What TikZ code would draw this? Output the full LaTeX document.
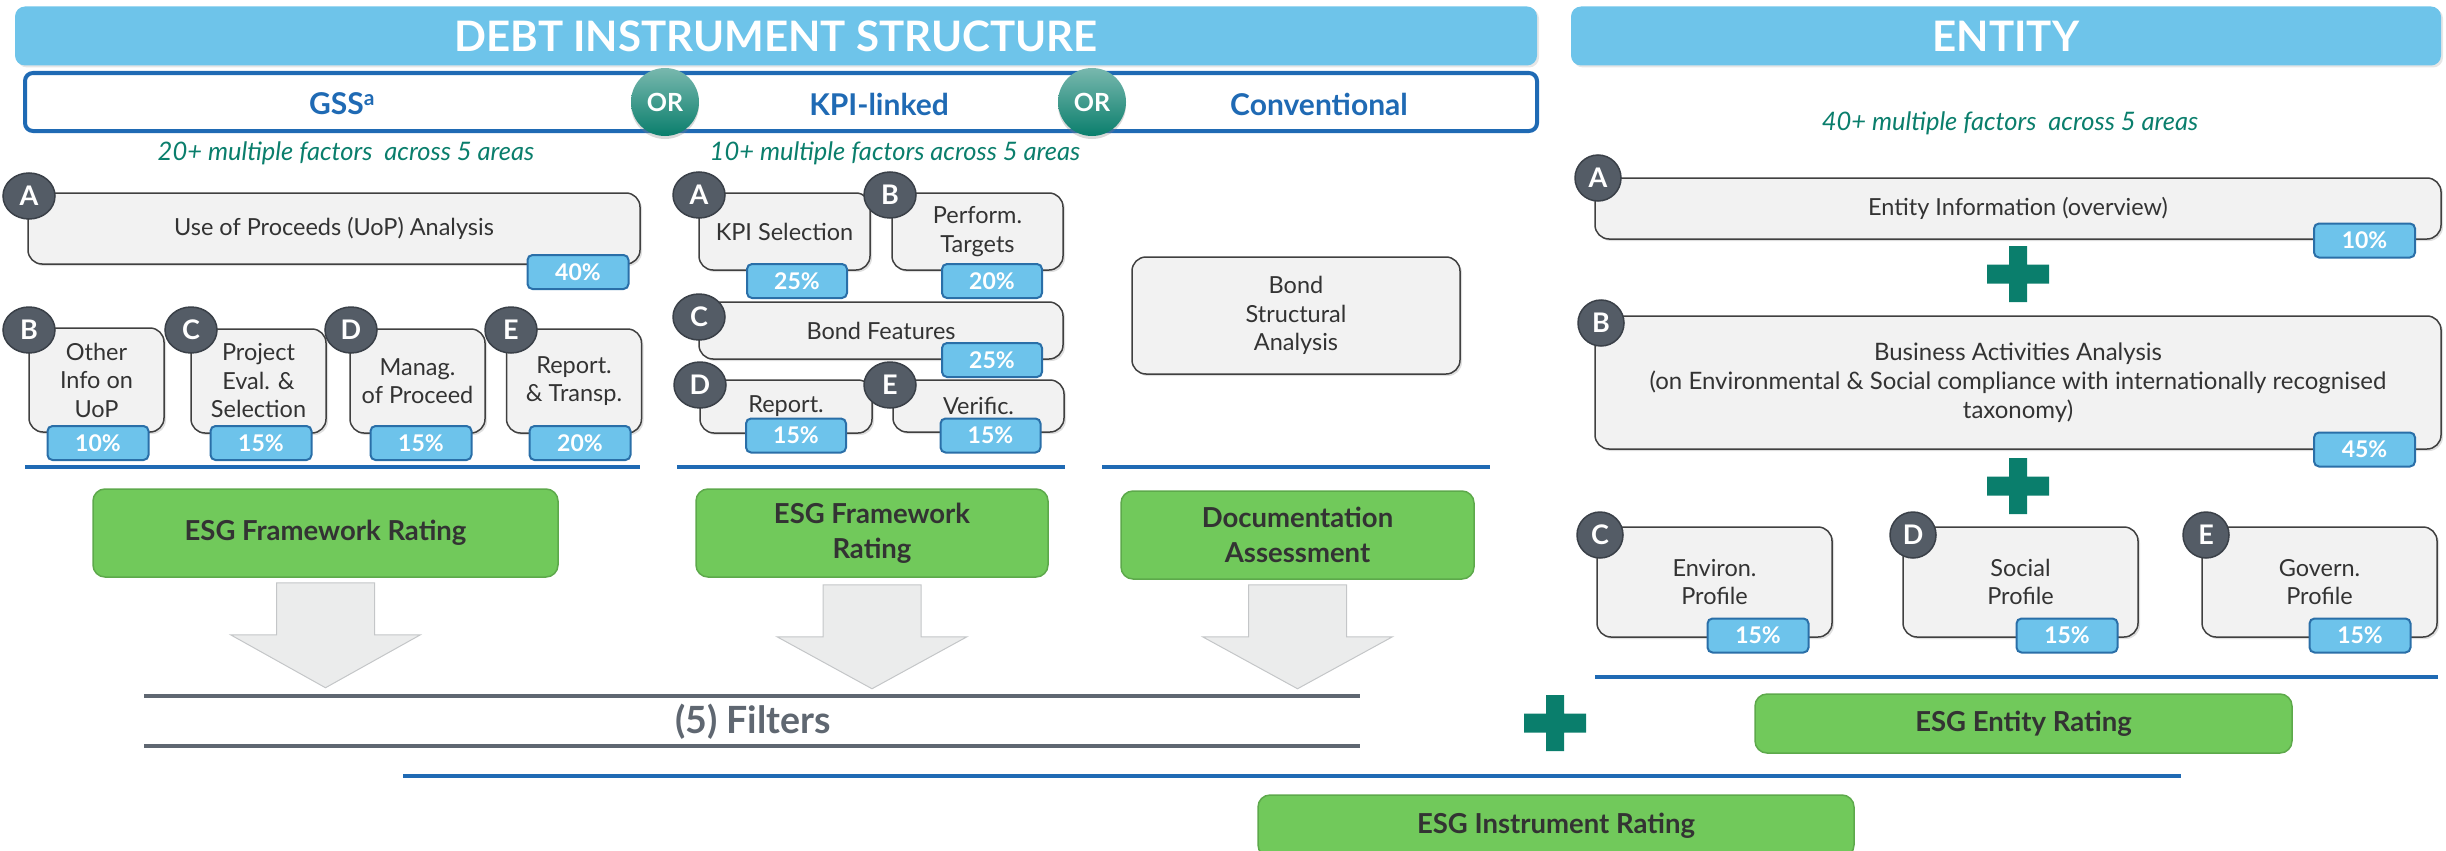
\documentclass[tikz,border=0pt]{standalone}
\usepackage{fontspec}
\setmainfont{Lato}
\usetikzlibrary{shadows,shapes.geometric}
\definecolor{headblue}{HTML}{6EC4EA}
\definecolor{frameblue}{HTML}{1F6AB4}
\definecolor{tealgreen}{HTML}{0A7E6C}
\definecolor{boxfill}{HTML}{F2F2F2}
\definecolor{boxline}{HTML}{404040}
\definecolor{lettergray}{HTML}{545C66}
\definecolor{letterline}{HTML}{3A4048}
\definecolor{pctfill}{HTML}{6DC3EB}
\definecolor{pctline}{HTML}{2A6FA8}
\definecolor{ratingfill}{HTML}{71C95B}
\definecolor{ratingline}{HTML}{5DA94B}
\definecolor{darktext}{HTML}{333333}
\definecolor{filtergray}{HTML}{5F6771}
\definecolor{arrowfill}{HTML}{EBECEC}
\definecolor{arrowedge}{HTML}{C4C6C8}
\def\plussign(#1){\fill[tealgreen, shift={(#1)}] (-31,-9.5) rectangle (31,9.5) (-9,-28) rectangle (9,28);}

\tikzset{
  header/.style={fill=headblue, rounded corners=10pt, minimum height=59pt, text=white,
    font=\bfseries\fontsize{42}{42}\selectfont, drop shadow={opacity=0.2, shadow xshift=2pt, shadow yshift=-2pt}},
  typelabel/.style={text=frameblue, font=\bfseries\fontsize{30}{30}\selectfont},
  orball/.style={circle, minimum size=68pt, inner sep=0pt, top color=tealgreen!55!white, bottom color=tealgreen,
    text=white, font=\bfseries\fontsize{25}{25}\selectfont,
    drop shadow={opacity=0.3, shadow xshift=0pt, shadow yshift=-3pt}},
  areas/.style={text=tealgreen, font=\itshape\fontsize{25.5}{25.5}\selectfont},
  factor/.style={draw=boxline, fill=boxfill, line width=1.5pt, rounded corners=14pt, align=center, text=darktext,
    font=\fontsize{23.5}{28.5}\selectfont, drop shadow={opacity=0.25, shadow xshift=2pt, shadow yshift=-2pt}},
  letter/.style={ellipse, fill=lettergray, draw=letterline, line width=1.5pt, text=white, minimum width=52pt,
    minimum height=46pt, inner sep=0pt, font=\bfseries\fontsize{27}{27}\selectfont},
  pct/.style={draw=pctline, fill=pctfill, line width=2pt, rounded corners=5pt, text=white, minimum width=101pt,
    minimum height=34pt, inner sep=0pt, font=\bfseries\fontsize{23}{23}\selectfont},
  rating/.style={draw=ratingline, fill=ratingfill, line width=1.5pt, rounded corners=12pt, align=center,
    text=darktext, font=\bfseries\fontsize{27.5}{35}\selectfont},
  sepline/.style={line width=4pt, color=frameblue},
  filterline/.style={line width=3.5pt, color=filtergray},
  blockarrow/.style={fill=arrowfill, draw=arrowedge, line width=1pt},
}

\begin{document}
\begin{tikzpicture}[x=1pt, y=-1pt]
		%%%%% START %%%%%
		\useasboundingbox (0,0) rectangle (2446,851);
		
		\node[header, minimum width=1522pt] (debthead) at (776,36) {DEBT INSTRUMENT STRUCTURE};
		\node[header, minimum width=870pt] (enthead) at (2006,36) {ENTITY};
		
		\node[draw=frameblue, line width=4pt, fill=white, rounded corners=8pt, minimum width=1512pt, minimum height=58pt] (typeframe) at (781,102) {};
		\node[typelabel] (gss) at (342,104) {GSS\textsuperscript{a}};
		\node[typelabel] (kpi) at (879,104) {KPI-linked};
		\node[typelabel] (conv) at (1319,104) {Conventional};
		\node[orball] (or1) at (665,102) {OR};
		\node[orball] (or2) at (1092,102) {OR};
		
		\node[areas] (gssareas) at (346,153) {20+ multiple factors\ \ across 5 areas};
		\node[areas] (kpiareas) at (895,153) {10+ multiple factors across 5 areas};
		\node[areas] (entareas) at (2010,123) {40+ multiple factors\ \ across 5 areas};
		
		% GSS
		\node[factor, minimum width=612pt, minimum height=71pt] (gssA) at (334,228.5) {Use of Proceeds (UoP) Analysis};
		\node[pct] (pgssA) at (578,272) {40\%};
		\node[letter] (lgssA) at (29,196) {A};
		
		\node[factor, minimum width=135pt, minimum height=104pt] (gssB) at (96.5,380) {Other\\Info on\\UoP};
		\node[factor, minimum width=135pt, minimum height=104pt] (gssC) at (258.5,381) {Project\\Eval. \&\\Selection};
		\node[factor, minimum width=135pt, minimum height=104pt] (gssD) at (417.5,381) {Manag.\\of Proceed};
		\node[factor, minimum width=135pt, minimum height=104pt] (gssE) at (574,381) {Report.\\\& Transp.};
		\node[pct] (pgssB) at (98,443) {10\%};
		\node[pct] (pgssC) at (261,443) {15\%};
		\node[pct] (pgssD) at (421,443) {15\%};
		\node[pct] (pgssE) at (580,443) {20\%};
		\node[letter] (lgssB) at (29,330) {B};
		\node[letter] (lgssC) at (191,330) {C};
		\node[letter] (lgssD) at (351,330) {D};
		\node[letter] (lgssE) at (511,330) {E};
		
		% KPI-linked
		\node[factor, minimum width=171pt, minimum height=77pt] (kpiA) at (784.5,231.5) {KPI Selection};
		\node[factor, minimum width=171pt, minimum height=77pt] (kpiB) at (977.5,231.5) {Perform.\\Targets};
		\node[pct, minimum width=100pt] (pkpiA) at (797,281) {25\%};
		\node[pct, minimum width=100pt] (pkpiB) at (992,281) {20\%};
		\node[letter] (lkpiA) at (699,195) {A};
		\node[letter] (lkpiB) at (890,195) {B};
		
		\node[factor, minimum width=364pt, minimum height=57pt] (kpiC) at (881,330.5) {Bond Features};
		\node[pct, minimum width=100pt] (pkpiC) at (992,360) {25\%};
		\node[letter] (lkpiC) at (699,317) {C};
		
		\node[factor, minimum width=172pt, minimum height=53pt] (kpiD) at (786,406.5) {Report.};
		\node[factor, minimum width=171pt, minimum height=52pt] (kpiE) at (978.5,406) {Verific.};
		\node[pct, minimum width=100pt] (pkpiD) at (796,435.5) {15\%};
		\node[pct, minimum width=100pt] (pkpiE) at (990.5,435.5) {15\%};
		\node[letter] (lkpiD) at (700,385) {D};
		\node[letter] (lkpiE) at (890,385) {E};
		
		% Conventional
		\node[factor, minimum width=328pt, minimum height=117pt] (convbox) at (1296,315.5) {Bond\\Structural\\Analysis};
		
		\draw[sepline] (25,467) -- (640,467);
		\draw[sepline] (677,467) -- (1065,467);
		\draw[sepline] (1102,467) -- (1490,467);
		
		\node[rating, minimum width=465pt, minimum height=88pt] (gssrating) at (325.5,533) {ESG Framework Rating};
		\node[rating, minimum width=352pt, minimum height=88pt] (kpirating) at (872,533) {ESG Framework\\Rating};
		\node[rating, minimum width=353pt, minimum height=88pt] (convrating) at (1297.5,535) {Documentation\\Assessment};
		
		\draw[blockarrow, shift={(gssrating.south)}] (-49,5) -- (49,5) -- (49,57) -- (95,57) -- (0,110) -- (-95,57) -- (-49,57) -- cycle;
		\draw[blockarrow, shift={(kpirating.south)}] (-49,7) -- (49,7) -- (49,59) -- (95,59) -- (0,111) -- (-95,59) -- (-49,59) -- cycle;
		\draw[blockarrow, shift={(convrating.south)}] (-49,5) -- (49,5) -- (49,57) -- (95,57) -- (0,109) -- (-95,57) -- (-49,57) -- cycle;
		
		\draw[filterline] (144,696) -- (1360,696);
		\draw[filterline] (144,746) -- (1360,746);
		\node[text=filtergray, font=\bfseries\fontsize{37.5}{37.5}\selectfont] (filters) at (753,722) {(5) Filters};
		
		% Entity
		\node[factor, minimum width=846pt, minimum height=61pt] (entA) at (2018,208.5) {Entity Information (overview)};
		\node[pct] (pentA) at (2364.5,240.5) {10\%};
		\node[letter, minimum width=46pt] (lentA) at (1598,178) {A};
		\plussign(2018,274)
		
		\node[factor, minimum width=846pt, minimum height=133pt, font=\fontsize{24}{29}\selectfont] (entB) at (2018,382.5) {Business Activities Analysis\\(on Environmental \& Social compliance with internationally recognised\\taxonomy)};
		\node[pct] (pentB) at (2364.5,449.5) {45\%};
		\node[letter, minimum width=46pt] (lentB) at (1601,323) {B};
		\plussign(2018,486)
		
		\node[factor, minimum width=235pt, minimum height=110pt] (entC) at (1714.5,582) {Environ.\\Profile};
		\node[factor, minimum width=235pt, minimum height=110pt] (entD) at (2020.5,582) {Social\\Profile};
		\node[factor, minimum width=235pt, minimum height=110pt] (entE) at (2319.5,582) {Govern.\\Profile};
		\node[pct] (pentC) at (1758,635.5) {15\%};
		\node[pct] (pentD) at (2067,635.5) {15\%};
		\node[pct] (pentE) at (2360,635.5) {15\%};
		\node[letter, minimum width=46pt] (lentC) at (1600,535) {C};
		\node[letter, minimum width=46pt] (lentD) at (1913,535) {D};
		\node[letter, minimum width=46pt] (lentE) at (2206,535) {E};
		
		\draw[sepline] (1595,677) -- (2438,677);
		\plussign(1555,723)
		\node[rating, minimum width=537pt, minimum height=59pt] (entrating) at (2023.5,723.5) {ESG Entity Rating};
		
		\draw[sepline] (403,776) -- (2181,776);
		\node[rating, minimum width=596pt, minimum height=62pt] (instrating) at (1556,826) {ESG Instrument Rating};
		
		%%%%% END %%%%%
\end{tikzpicture}
\end{document}
